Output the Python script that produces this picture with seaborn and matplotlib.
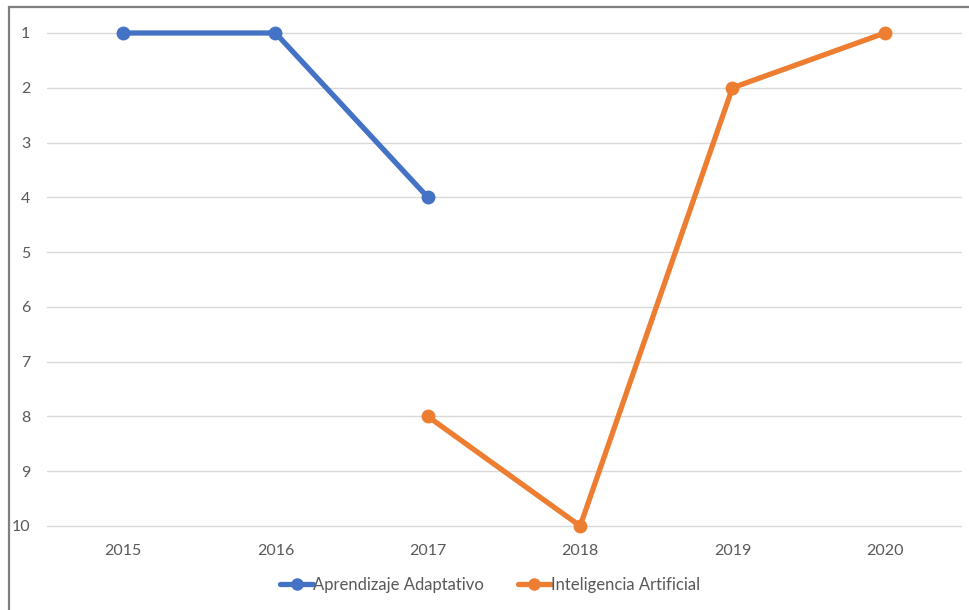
import matplotlib
matplotlib.use("Agg")
import matplotlib.pyplot as plt
import seaborn as sns
import pandas as pd
import numpy as np
from matplotlib.lines import Line2D
from matplotlib.patches import Rectangle

years = [2015, 2016, 2017, 2018, 2019, 2020]
aprendizaje = [1, 1, 4, np.nan, np.nan, np.nan]
inteligencia = [np.nan, np.nan, 8, 10, 2, 1]
series_names = ["Aprendizaje Adaptativo", "Inteligencia Artificial"]
colors = ["#4472C4", "#ED7D31"]
yticks = list(range(1, 11))

df = pd.DataFrame({
    "year": years * 2,
    "rank": aprendizaje + inteligencia,
    "serie": [series_names[0]] * len(years) + [series_names[1]] * len(years),
}).dropna()

sns.set_theme(style="white")
plt.rcParams["font.family"] = ["Lato", "DejaVu Sans"]

fig = plt.figure(figsize=(9.69, 6.10), dpi=100)
ax = fig.add_axes([47 / 969, 1 - 526 / 610, (961 - 47) / 969, (526 - 33) / 610])

sns.lineplot(data=df, x="year", y="rank", hue="serie", palette=colors,
             marker="o", markersize=10, linewidth=3.8, markeredgewidth=0,
             ax=ax, legend=False, clip_on=False, zorder=3)

ax.set_xlim(2014.5, 2020.5)
ax.set_ylim(10, 1)
ax.set_yticks(yticks)
ax.set_xticks(years)
ax.set_xticklabels([str(y) for y in years])
ax.set_xlabel("")
ax.set_ylabel("")
ax.grid(axis="y", color="#D9D9D9", linewidth=1)
ax.grid(axis="x", visible=False)
for gl in ax.get_ygridlines():
    gl.set_clip_on(False)
for s in ax.spines.values():
    s.set_visible(False)
ax.tick_params(axis="y", length=0, pad=12, labelsize=11.5, labelcolor="#595959")
ax.tick_params(axis="x", length=0, pad=13, labelsize=11.5, labelcolor="#595959")
for lbl in ax.get_yticklabels():
    lbl.set_horizontalalignment("right")

handles = [Line2D([0], [0], color=c, linewidth=3.8, marker="o", markersize=9,
                  markeredgewidth=0) for c in colors]
fig.legend(handles, series_names, loc="center", bbox_to_anchor=(490 / 969, 1 - 585 / 610),
           ncol=2, frameon=False, fontsize=12, labelcolor="#595959",
           handlelength=2.0, handletextpad=0.0, columnspacing=2.0)

fig.patches.append(Rectangle((9 / 969, -0.1), 1.1, 1 - 7 / 610 + 0.1,
                             transform=fig.transFigure, fill=False,
                             edgecolor="#7F7F7F", linewidth=1.6, zorder=0))

fig.savefig("out.png", dpi=100)
